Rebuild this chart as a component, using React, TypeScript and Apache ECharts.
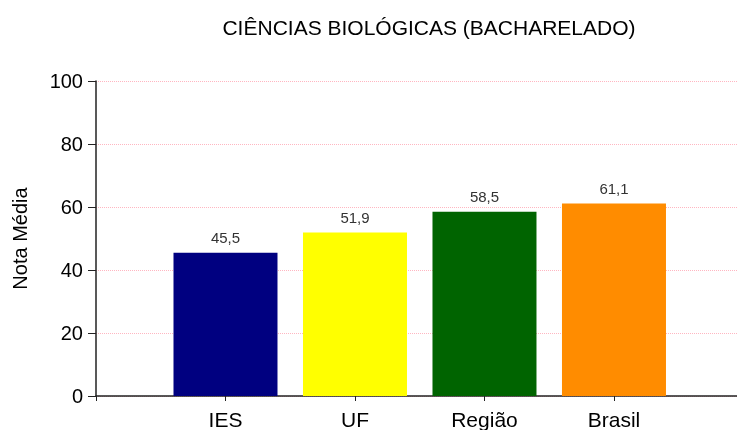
import React, { useEffect, useRef } from "react";
import * as echarts from "echarts";

const categories = ["IES", "UF", "Região", "Brasil"];
const values = [45.5, 51.9, 58.5, 61.1];
const barColors = ["#000080", "#ffff00", "#006400", "#ff8c00"];
const yTicks = [0, 20, 40, 60, 80, 100];
const title = "CIÊNCIAS BIOLÓGICAS (BACHARELADO)";
const yName = "Nota Média";

export default function App() {
  const ref = useRef<HTMLDivElement>(null);
  useEffect(() => {
    if (!ref.current) return;
    const chart = echarts.init(ref.current, null, { renderer: "svg" });
    const font = "'Liberation Sans', Arial, sans-serif";
    chart.setOption({
      animation: false,
      title: {
        text: title,
        left: 424,
        top: 12,
        textAlign: "center",
        textStyle: { fontFamily: font, fontSize: 21, fontWeight: "normal", color: "#000" },
      },
      grid: { left: 96, right: 0, top: 81, bottom: 32, containLabel: false },
      xAxis: {
        type: "value",
        min: 0,
        max: 4.95,
        interval: 1,
        splitLine: { show: false },
        axisLine: { show: true, lineStyle: { color: "#222", width: 1.5 } },
        axisTick: { show: true, length: 5, lineStyle: { color: "#222" } },
        axisLabel: {
          fontFamily: font,
          fontSize: 21,
          color: "#000",
          margin: 13,
          showMaxLabel: false,
          formatter: (v: number) => {
            const i = Math.round(v) - 1;
            return Math.abs(v - Math.round(v)) < 1e-6 && i >= 0 && i < categories.length ? categories[i] : "";
          },
        },
      },
      yAxis: {
        type: "value",
        min: yTicks[0],
        max: yTicks[yTicks.length - 1],
        interval: 20,
        name: yName,
        nameLocation: "middle",
        nameRotate: 90,
        nameGap: 66,
        nameTextStyle: { fontFamily: font, fontSize: 20, color: "#000" },
        axisLine: { show: true, lineStyle: { color: "#222", width: 1.5 } },
        axisTick: { show: true, length: 8, lineStyle: { color: "#222" } },
        axisLabel: { fontFamily: font, fontSize: 20, color: "#000", margin: 13 },
        splitLine: { show: true, lineStyle: { color: "#ffb6c1", type: "dotted", width: 1 } },
      },
      series: [
        {
          type: "bar",
          barWidth: 104,
          data: values.map((v, i) => ({
            value: [i + 1, v],
            itemStyle: { color: barColors[i] },
          })),
          label: {
            show: true,
            position: "top",
            distance: 8,
            fontFamily: font,
            fontSize: 15,
            color: "#333",
            formatter: (p: any) => p.value[1].toFixed(1).replace(".", ","),
          },
        },
      ],
    });
    return () => chart.dispose();
  }, []);
  return <div ref={ref} style={{ width: 737, height: 430, position: "fixed", left: 0, top: 0 }} />;
}
